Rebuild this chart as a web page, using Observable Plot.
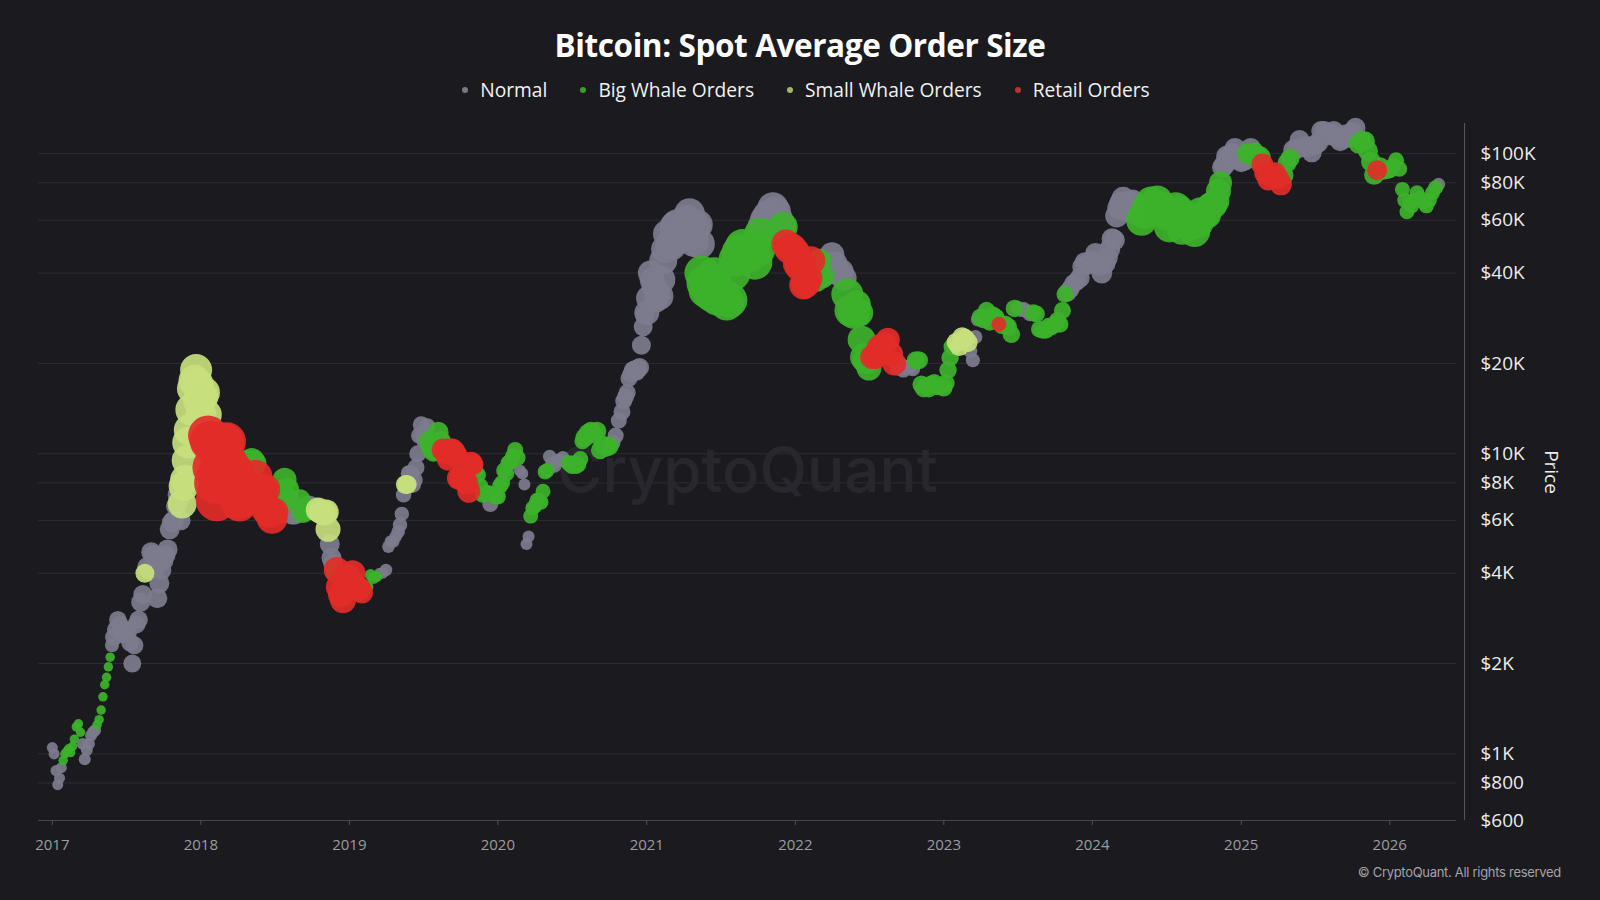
<!DOCTYPE html>
<html>
<head>
<meta charset="utf-8">
<script src="https://cdn.jsdelivr.net/npm/d3@7"></script>
<script src="https://cdn.jsdelivr.net/npm/@observablehq/plot@0.6"></script>
<style>
  html, body { margin: 0; padding: 0; background: #1a1a1f; }
  #wrap { position: relative; width: 1600px; height: 900px; overflow: hidden; background: #1a1a1f; }
  #title { position: absolute; left: 0; width: 1600px; top: 25px; line-height: 40px; text-align: center;
           font-family: "Open Sans", "Noto Sans", sans-serif; font-weight: 700; font-size: 31.5px; color: #ffffff; letter-spacing: -0.4px; }
  #legend { position: absolute; left: 0; width: 1600px; top: 77px; line-height: 26px; display: flex; justify-content: center; gap: 33px;
            font-family: "Open Sans", "Noto Sans", sans-serif; font-size: 19.2px; color: #f2f2f2; padding-left: 12px; box-sizing: border-box; }
  #legend .item { display: flex; align-items: center; }
  #legend .dot { width: 6px; height: 6px; border-radius: 50%; margin-right: 12px; }
  #chart { position: absolute; left: 0; top: 112px; }
  #caption { position: absolute; right: 39px; top: 863px; line-height: 18px; font-family: Inter, Roboto, sans-serif;
             font-size: 13px; color: #a3a3ab; letter-spacing: -0.3px; }
</style>
</head>
<body>
<div id="wrap">
  <div id="title"></div>
  <div id="legend"></div>
  <div id="chart"></div>
  <div id="caption"></div>
</div>
<script>
// ---------------- DATA ----------------
const titleText = "Bitcoin: Spot Average Order Size";
const captionText = "© CryptoQuant. All rights reserved";
const seriesNames = ["Normal", "Big Whale Orders", "Small Whale Orders", "Retail Orders"];
const seriesCodes = ["N", "B", "S", "R"];
const yTicks = [600, 800, 1000, 2000, 4000, 6000, 8000, 10000, 20000, 40000, 60000, 80000, 100000];
const yTickLabels = ["$600", "$800", "$1K", "$2K", "$4K", "$6K", "$8K", "$10K", "$20K", "$40K", "$60K", "$80K", "$100K"];
const xTickYears = [2017, 2018, 2019, 2020, 2021, 2022, 2023, 2024, 2025, 2026];
const years = [2017, 2018, 2019, 2020, 2021, 2022, 2023, 2024, 2025, 2026];

// Prices: one row per month, samples spread evenly through the month
const price2017 = [[1050,1000,880,790,830,900,950],[1000,1020,1040,1010,1060,1120],[1230,1260,1180,1080,960,1030],[1080,1150,1180,1200,1250,1300],[1400,1550,1700,1800,1950,2100,2300],[2450,2600,2800,2700,2500,2600],[2500,2550,2350,2000,2300,2700],[2800,3200,3400,4000,4200,4100],[4700,4600,4200,3300,3700,4100],[4400,4600,4800,5600,5900,6000],[6700,7300,7000,6000,6800,7800,8200,9500],[10900,12000,14000,16500,17500,19000,17000,15000]];
const class2017 = ["NNNNNNB","B","BBBNNN","NNNNBB","BBBBBBN","N","N","NNNSNN","N","N","NNNNSSSS","S"];
const weight2017 = [[2.2,2.2,2.2,2.2,2.2,2.2,1.9],1.9,[1.9,1.9,1.9,2.4,2.4,2.4],[2.4,2.4,2.4,2.4,1.9,1.9],[1.9,1.9,1.9,1.9,1.9,1.9,2.8],3.5,3.6,[3.7,3.8,3.8,3.8,3.9,3.9],4,4,[4,4,4,4,5.8,6,6,6],6.4];

const price2018 = [[13500,15500,16000,13500,11500,11000,11000],[9000,8000,7000,8500,10000,10500,10400],[10900,11000,9300,8200,8500,8700],[6900,6800,7000,8000,8900,9300],[9200,9500,9300,8400,7600,7500],[7500,7600,6500,6400,6100],[6400,6700,6800,7400,8200],[7600,7000,6300,6300,6500],[7000,6400,6500,6700],[6600,6600,6500,6400],[6350,6400,5600,5000,4500,4300,4000],[4100,3600,3400,3250,3600,3900]];
const class2018 = ["SSSSRRR","R","R","RRRRBB","BBBRRR","R","RNBBB","BNNNN","BBBN","NNSS","SSSNNNB","R"];
const weight2018 = [[6.2,6.2,6.2,6.2,8,8,8],8.4,7.6,[7,7,7,6.6,5,5],[5,5,5,6.6,6.6,6.6],6.2,[5.6,4.2,4.8,4.8,4.8],[4.8,4.2,4.2,4.2,4.2],[4.4,4.4,4.4,4.2],[4.2,4.2,5,5],[5,5,5,4,4,4,3.6],5.2];

const price2019 = [[3800,4000,3600,3550],[3450,3650,3600,3950],[3850,3900,4000,4000],[4100,4900,5100,5100,5300],[5500,5800,6300,7300,7900,7900,8600],[8600,7900,8200,9000,10000,11500,12500],[11500,11000,12300,11000,10500,10200],[10300,11800,11000,10300,10100],[9600,10300,10300,10100,9800,8300],[8300,8200,8200,8000,7500,9300],[9200,8800,8500,7800,7300],[7400,7400,6800,7300,7200]];
const class2019 = ["R","RBBB","BBNN","N","NNNNSSN","N","NNNBBB","BBBRR","R","R","RBBBB","BBNBB"];
const weight2019 = [[5.2,5.2,4.8,4.8],[4.4,2.3,2.3,2.3],[2.3,2.3,2.2,2.2],2.5,[2.7,2.9,2.9,3.1,3.8,3.8,3.3],3.4,[3.4,3.4,3.4,4.2,4.2,4.2],[4.2,4.2,4.2,4.6,4.6],4.6,4.6,[4.2,3.2,3.2,3.2,3.2],3.2];

const price2020 = [[7200,7800,8000,8800,8600,9300],[9400,9800,10300,9700,8800],[8600,7900,5000,5300,6200,6600],[6700,7000,7000,6900,7500,8700],[8800,9800,9300,9100,9500],[9500,9700,9400,9300],[9100,9300,9100,9200,9600,11000],[11300,11700,11900,11600],[11900,10300,10700,10500],[10600,10900,11500,12900],[13800,15000,15500,16000,17800,18400,19000],[19000,18800,19200,19400,23000,26500,29000]];
const class2020 = ["B","BBBBN","NNNNBB","B","BNNNN","NNNB","B","B","B","BNNN","N","N"];
const weight2020 = [3.2,[3.2,3.2,3.2,3.2,2.4],[2.4,2.4,2.4,2.4,3,3],3,[3,2.7,2.7,2.7,2.7],[2.7,2.7,2.7,3.2],3.2,3.7,3.7,[3.7,3.2,3.2,3.2],3.4,3.8];

const price2021 = [[29500,33000,40000,38000,36000,32500,34000],[33500,38000,44000,48000,54000,49000],[49500,51000,57000,58000,54000,56000],[58800,58000,60000,63000,54000,51000],[57000,58000,50000,40000,37000,35000],[36500,34000,39500,33000],[33500,33500,31800,32500],[40000,44500,47000,49000],[47000,46000,48000,43500],[48000,54000,57000,60000,62000],[61000,66000,64000,60000,57000],[57000,50000,48000,48500]];
const class2021 = ["N","N","N","N","NNNBBB","B","B","B","B","BBNNN","N","BRRR"];
const weight2021 = [5,5.6,6.2,6.2,[6,6,6,7,7,7],7,7,7,7,[7,6.5,6.2,6.2,6.2],6.2,[6,5.8,5.8,5.8]];

const price2022 = [[47000,43000,42000,43000,36500,37000],[38500,44000,42500,38000],[44000,39000,40000,42500],[46000,43000,40000,40500],[38500,34000,30000,29500],[31500,29500,24000,21000,20500],[19300,21000,21000,22500],[23000,23200,24000,21500],[20000,19300,19800,19000],[19400,19500,19200,20500],[20500,17000,16500,16800,16500],[17000,17200,16800,16800]];
const class2022 = ["R","RRBB","BBNN","N","NBBB","B","BRRR","R","RNNN","NNNB","B","B"];
const weight2022 = [5.8,[5.8,5.8,4.8,4.8],[4.8,4.8,5,5],5,[5,6.4,6.4,6.4],5.6,[5,4.8,4.8,4.8],4.8,[4.8,3,3,3],[3,3,3,3.6],3.6,3.6];

const price2023 = [[16600,17200,19000,20900,22700,23000],[23500,22800,24500,24200],[23500,22000,20500,24500,28000],[28500,28000,30000,27500],[29000,28500,27000,26800],[27000,26500,25000,30500],[30600,30200,30300,29800],[29200,29500,29200,26000],[25800,25800,26600,26500],[27000,27800,27000,30000,34000],[34500,35500,37000,37500],[38500,42000,43500,42500,43700]];
const class2023 = ["B","S","SNNNN","B","BBRB","B","N","NBBB","B","B","N","N"];
const weight2023 = [3.5,3.9,[3.9,2.8,2.8,2.8,2.8],3.5,[3.5,3.5,3,3.5],3.5,2.9,[2.9,3.4,3.4,3.4],3.4,3.4,3.7,4];

const price2024 = [[44000,46500,42500,40000],[43000,45000,48000,52000,51500],[62000,66000,68500,71000,65000,67000],[69000,69500,63000,66000],[60000,63000,66000,69000],[67500,69500,66500,64000],[62500,57000,64000,66000],[64500,56000,59000,61000],[58000,55000,58500,63500],[62000,62500,66500,67500],[69500,75000,80000,90000,92000,98000],[97000,100000,104000,96000]];
const class2024 = ["N","N","N","N","B","B","B","B","B","B","BBBNNN","N"];
const weight2024 = [4.2,4.2,4.6,4.6,6.2,6.2,6.2,6.2,6.2,5.6,[5.2,5,4.6,4.2,4.2,4.2],4.2];

const price2025 = [[94000,95000,100000,104000],[100000,97000,97000,92000],[86000,82000,84000,86000],[83000,79000,84500,93000],[96500,103000,103500,111000],[105000,106000,105000,101000],[107000,108500,119000,119000],[115000,117000,119000,113000],[110000,112000,116000,113000],[118000,122000,108000,110000],[110000,102000,94000,85000],[88000,91000,87500,88000]];
const class2025 = ["NNBN","BBBR","R","RRBB","BNNN","N","N","N","N","NNBB","B","RBBB"];
const weight2025 = [4.2,[4.5,4.5,4.5,4.4],4.4,[4.4,4.4,3.8,3.8],[3.8,4,4,4],4,4,4,4,4,4,[4,3.5,3.5,3.5]];

const price2026 = [[88000,91000,95000,89000],[76000,70000,64000,68000,67000],[70000,74000,71000,69000],[67000,70000,74000,77000],[79000]];
const class2026 = ["B","B","B","B","N"];
const weight2026 = [3.2,3,3,3,2.6];

// ---------------- BUILD ----------------
const priceByYear = [price2017, price2018, price2019, price2020, price2021, price2022, price2023, price2024, price2025, price2026];
const classByYear = [class2017, class2018, class2019, class2020, class2021, class2022, class2023, class2024, class2025, class2026];
const weightByYear = [weight2017, weight2018, weight2019, weight2020, weight2021, weight2022, weight2023, weight2024, weight2025, weight2026];

const codeToName = new Map(seriesCodes.map((c, i) => [c, seriesNames[i]]));
const points = [];
years.forEach((yr, yi) => {
  priceByYear[yi].forEach((row, m) => {
    const cls = classByYear[yi][m];
    const w = weightByYear[yi][m];
    const start = Date.UTC(yr, m, 1), end = Date.UTC(yr, m + 1, 1);
    row.forEach((p, i) => {
      const code = cls.length === 1 ? cls : cls[i];
      points.push({
        date: new Date(start + (end - start) * i / row.length),
        price: p,
        series: codeToName.get(code),
        weight: Array.isArray(w) ? w[i] : w
      });
    });
  });
});
const seriesOrder = new Map(seriesNames.map((s, i) => [s, i]));
points.sort((a, b) => (seriesOrder.get(a.series) - seriesOrder.get(b.series)) || (a.date - b.date));

const colors = ["#7c7c8e", "#3db22b", "#c5df7d", "#e22d28"];
const legendColors = ["#7a7a86", "#3a9e2a", "#9cb865", "#b83232"];

document.getElementById("title").textContent = titleText;
document.getElementById("caption").textContent = captionText;
const legend = document.getElementById("legend");
seriesNames.forEach((s, i) => {
  const item = document.createElement("div");
  item.className = "item";
  const dot = document.createElement("span");
  dot.className = "dot";
  dot.style.background = legendColors[i];
  const label = document.createElement("span");
  label.textContent = s;
  item.appendChild(dot); item.appendChild(label);
  legend.appendChild(item);
});

const xStart = new Date(Date.UTC(2016, 10, 28));
const xEnd = new Date(Date.UTC(2026, 5, 14));
const xTicks = xTickYears.map(y => new Date(Date.UTC(y, 0, 1)));
const tickLabel = new Map(yTicks.map((t, i) => [t, yTickLabels[i]]));

const chart = Plot.plot({
  width: 1600,
  height: 743,
  marginLeft: 38,
  marginRight: 144,
  marginTop: 11,
  marginBottom: 35,
  style: { background: "transparent", color: "#ececec", fontFamily: "'Open Sans', 'Noto Sans', sans-serif" },
  x: { type: "utc", domain: [xStart, xEnd] },
  y: { type: "log", domain: [600, 126000] },
  r: { type: "linear", domain: [0, 10], range: [0, 25] },
  color: { domain: seriesNames, range: colors },
  marks: [
    Plot.gridY(yTicks.filter(t => t > 600), { stroke: "#2c2c33", strokeOpacity: 1 }),
    Plot.ruleY([600], { stroke: "#46464f" }),
    Plot.text(["CryptoQuant"], { text: d => d, frameAnchor: "middle", fontSize: 62, fill: "#27272d", fontFamily: "Inter, Roboto, sans-serif", fontWeight: 500 }),
    Plot.dot(points, { x: "date", y: "price", r: "weight", fill: "series", fillOpacity: 0.92, sort: null }),
    Plot.ruleX([xEnd], { dx: 8, stroke: "#55555e" }),
    Plot.axisY(yTicks, { anchor: "right", tickSize: 0, tickPadding: 24, fontSize: 19, tickFormat: d => tickLabel.get(d), label: null, fill: "#ececec" }),
    Plot.axisX(xTicks, { anchor: "bottom", tickSize: 5, tickPadding: 14, fontSize: 15, tickFormat: d3.utcFormat("%Y"), label: null, fill: "#9c9ca5", stroke: "#50505a", fontFamily: "'Open Sans', sans-serif" }),
    Plot.text(["Price"], { text: d => d, frameAnchor: "right", dx: 95, rotate: 90, textAnchor: "middle", fontSize: 19, fill: "#ececec" })
  ]
});
document.getElementById("chart").appendChild(chart);
</script>
</body>
</html>
